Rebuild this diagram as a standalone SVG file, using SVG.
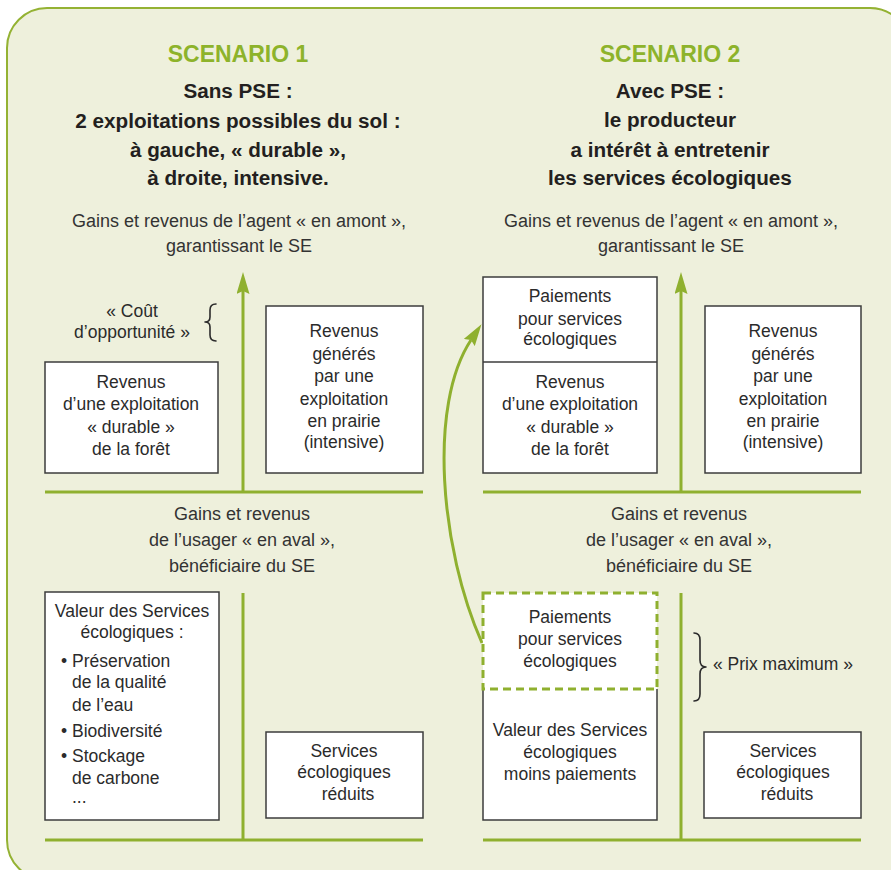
<svg xmlns="http://www.w3.org/2000/svg" width="891" height="870" viewBox="0 0 891 870">
<style>
.bg{fill:#eef0dc;stroke:#94b233;stroke-width:2}
.ttl{font-family:"Liberation Sans",Arial,sans-serif;font-size:23px;font-weight:bold;fill:#8db32b;text-anchor:middle}
.sub{font-family:"Liberation Sans",Arial,sans-serif;font-size:20.7px;font-weight:bold;fill:#231f20;text-anchor:middle}
.lbl{font-family:"Liberation Sans",Arial,sans-serif;font-size:18px;fill:#333;text-anchor:middle}
.bx{font-family:"Liberation Sans",Arial,sans-serif;font-size:17.5px;fill:#2b2b2b;text-anchor:middle}
.bl{font-family:"Liberation Sans",Arial,sans-serif;font-size:17.5px;fill:#2b2b2b}
.box{fill:#fff;stroke:#3c3c3c;stroke-width:1.5}
.ax{fill:none;stroke:#8fb02f;stroke-width:3}
.br{fill:none;stroke:#2b2b2b;stroke-width:1.6;stroke-linecap:round;stroke-linejoin:round}
.dash{fill:#fff;stroke:#8fb02f;stroke-width:3;stroke-dasharray:8 5}
</style>
<defs>
<marker id="ah" markerUnits="userSpaceOnUse" markerWidth="22" markerHeight="13" refX="3" refY="6.5" orient="auto">
<path d="M0,0 L22,6.5 L0,13 L3,6.5 z" fill="#8fb02f"/>
</marker>
</defs>
<rect class="bg" x="7" y="8" width="903" height="872" rx="40" ry="40"/>

<g id="scenario1-header">
<text class="ttl" x="238" y="62">SCENARIO 1</text>
<text class="sub" x="238" y="98">Sans PSE :</text>
<text class="sub" x="238" y="128">2 exploitations possibles du sol :</text>
<text class="sub" x="238" y="157">à gauche, « durable »,</text>
<text class="sub" x="238" y="185">à droite, intensive.</text>
<text class="lbl" x="239" y="227">Gains et revenus de l’agent « en amont »,</text>
<text class="lbl" x="239" y="252">garantissant le SE</text>
</g>

<g id="scenario2-header">
<text class="ttl" x="670" y="62">SCENARIO 2</text>
<text class="sub" x="670" y="98">Avec PSE :</text>
<text class="sub" x="670" y="127">le producteur</text>
<text class="sub" x="670" y="157">a intérêt à entretenir</text>
<text class="sub" x="670" y="185">les services écologiques</text>
<text class="lbl" x="671" y="227">Gains et revenus de l’agent « en amont »,</text>
<text class="lbl" x="671" y="252">garantissant le SE</text>
</g>

<g id="connectors">
<line class="ax" x1="243" y1="493" x2="243" y2="291" marker-end="url(#ah)"/>
<line class="ax" x1="45" y1="492" x2="423" y2="492"/>
<line class="ax" x1="681" y1="493" x2="681" y2="291" marker-end="url(#ah)"/>
<line class="ax" x1="483" y1="492" x2="861" y2="492"/>
<line class="ax" x1="243" y1="593" x2="243" y2="840"/>
<line class="ax" x1="45" y1="840" x2="423" y2="840"/>
<line class="ax" x1="681" y1="593" x2="681" y2="840"/>
<line class="ax" x1="483" y1="840" x2="861" y2="840"/>
<path class="ax" d="M482,643 C440,548 428,405 471,340" marker-end="url(#ah)"/>
</g>

<g id="cout-opportunite">
<path class="br" d="M216,304 Q210,304 210,310 L210,317 Q210,322 205,322 Q210,322 210,327 L210,335 Q210,341 216,341"/>
<text class="bx" x="132" y="317">« Coût</text>
<text class="bx" x="132" y="338">d’opportunité »</text>
</g>

<g id="s1-revenus-foret">
<rect class="box" x="45" y="362" width="173" height="111"/>
<text class="bx" x="131" y="388">Revenus</text>
<text class="bx" x="131" y="410">d’une exploitation</text>
<text class="bx" x="131" y="433">« durable »</text>
<text class="bx" x="131" y="455">de la forêt</text>
</g>

<g id="s1-revenus-prairie">
<rect class="box" x="266" y="306" width="157" height="167"/>
<text class="bx" x="344" y="337">Revenus</text>
<text class="bx" x="344" y="360">générés</text>
<text class="bx" x="344" y="382">par une</text>
<text class="bx" x="344" y="405">exploitation</text>
<text class="bx" x="344" y="427">en prairie</text>
<text class="bx" x="344" y="448">(intensive)</text>
</g>

<g id="s1-aval-label">
<text class="lbl" x="242" y="520">Gains et revenus</text>
<text class="lbl" x="242" y="546">de l’usager « en aval »,</text>
<text class="lbl" x="242" y="572">bénéficiaire du SE</text>
</g>

<g id="s1-valeur-se">
<rect class="box" x="45" y="592" width="174" height="228"/>
<text class="bx" x="132" y="617">Valeur des Services</text>
<text class="bx" x="132" y="638">écologiques :</text>
<text class="bl" x="61" y="667">•</text>
<text class="bl" x="72" y="667">Préservation</text>
<text class="bl" x="72" y="688">de la qualité</text>
<text class="bl" x="72" y="711">de l’eau</text>
<text class="bl" x="61" y="737">•</text>
<text class="bl" x="72" y="737">Biodiversité</text>
<text class="bl" x="61" y="762">•</text>
<text class="bl" x="72" y="762">Stockage</text>
<text class="bl" x="72" y="784">de carbone</text>
<text class="bl" x="72" y="803">...</text>
</g>

<g id="s1-services-reduits">
<rect class="box" x="266" y="732" width="157" height="86"/>
<text class="bx" x="344" y="757">Services</text>
<text class="bx" x="344" y="778">écologiques</text>
<text class="bx" x="348" y="800">réduits</text>
</g>

<g id="s2-paiements-revenus">
<rect class="box" x="483" y="277" width="174" height="196"/>
<line x1="483" y1="362" x2="657" y2="362" stroke="#3c3c3c" stroke-width="1.5"/>
<text class="bx" x="570" y="302">Paiements</text>
<text class="bx" x="570" y="325">pour services</text>
<text class="bx" x="570" y="345">écologiques</text>
<text class="bx" x="570" y="388">Revenus</text>
<text class="bx" x="570" y="410">d’une exploitation</text>
<text class="bx" x="570" y="433">« durable »</text>
<text class="bx" x="570" y="455">de la forêt</text>
</g>

<g id="s2-revenus-prairie">
<rect class="box" x="705" y="306" width="156" height="167"/>
<text class="bx" x="783" y="337">Revenus</text>
<text class="bx" x="783" y="360">générés</text>
<text class="bx" x="783" y="382">par une</text>
<text class="bx" x="783" y="405">exploitation</text>
<text class="bx" x="783" y="427">en prairie</text>
<text class="bx" x="783" y="448">(intensive)</text>
</g>

<g id="s2-aval-label">
<text class="lbl" x="679" y="520">Gains et revenus</text>
<text class="lbl" x="679" y="546">de l’usager « en aval »,</text>
<text class="lbl" x="679" y="572">bénéficiaire du SE</text>
</g>

<g id="s2-valeur-moins">
<rect x="483" y="689" width="174" height="131" fill="#fff"/>
<path d="M483,689 V820 H657 V689" fill="none" stroke="#3c3c3c" stroke-width="1.5"/>
<text class="bx" x="570" y="736">Valeur des Services</text>
<text class="bx" x="570" y="758">écologiques</text>
<text class="bx" x="570" y="780">moins paiements</text>
</g>

<g id="s2-paiements-dashed">
<rect class="dash" x="483" y="593" width="174" height="96"/>
<text class="bx" x="570" y="623">Paiements</text>
<text class="bx" x="570" y="645">pour services</text>
<text class="bx" x="570" y="667">écologiques</text>
</g>

<g id="prix-maximum">
<path class="br" d="M694,633 Q700,633 700,640 L700,660 Q700,667 706,667 Q700,667 700,674 L700,694 Q700,701 694,701"/>
<text class="bx" x="783" y="670">« Prix maximum »</text>
</g>

<g id="s2-services-reduits">
<rect class="box" x="704" y="732" width="157" height="86"/>
<text class="bx" x="783" y="757">Services</text>
<text class="bx" x="783" y="778">écologiques</text>
<text class="bx" x="787" y="800">réduits</text>
</g>
</svg>
